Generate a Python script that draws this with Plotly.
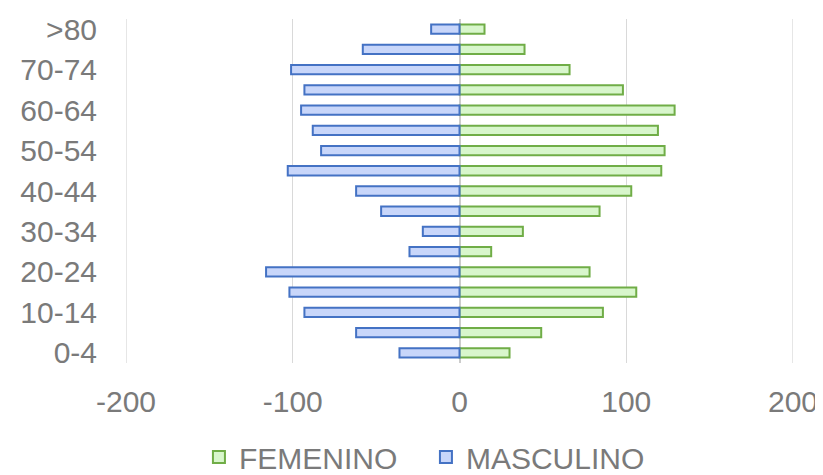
import plotly.graph_objects as go

# Grupos de edad (de abajo hacia arriba)
grupos = ['0-4', '5-9', '10-14', '15-19', '20-24', '25-29', '30-34', '35-39',
          '40-44', '45-49', '50-54', '55-59', '60-64', '65-69', '70-74', '75-79', '>80']

femenino = [30, 49, 86, 106, 78, 19, 38, 84, 103, 121, 123, 119, 129, 98, 66, 39, 15]
masculino = [-36, -62, -93, -102, -116, -30, -22, -47, -62, -103, -83, -88, -95, -93, -101, -58, -17]

# Solo se muestra una etiqueta de cada dos
etiquetas_y = grupos[::2]
ticks_x = [-200, -100, 0, 100, 200]

gris = '#7a7a7a'
gris_rejilla = '#d9d9d9'
fuente = 'Liberation Sans, Arial, sans-serif'

fig = go.Figure()

fig.add_trace(go.Bar(
    y=grupos, x=femenino, orientation='h', name='FEMENINO',
    width=0.46,
    marker=dict(color='#d8f6cc', line=dict(color='#70ad47', width=2)),
))
fig.add_trace(go.Bar(
    y=grupos, x=masculino, orientation='h', name='MASCULINO',
    width=0.46,
    marker=dict(color='#c8d6fa', line=dict(color='#4472c4', width=2)),
))

# plotly no dibuja la rejilla en los bordes del rango: se añaden a mano
for v in (ticks_x[0], ticks_x[-1]):
    fig.add_shape(type='line', xref='x', yref='paper', x0=v, x1=v, y0=0, y1=1,
                  line=dict(color=gris_rejilla, width=1.3), layer='below')

# la página deja 8 px de margen en el body, se compensa en los márgenes
fig.update_layout(
    width=823, height=475,
    barmode='overlay',
    paper_bgcolor='white', plot_bgcolor='white',
    font=dict(family=fuente, size=30, color=gris),
    margin=dict(l=118, r=38, t=5, b=120),
    showlegend=True,
    legend=dict(
        orientation='h', xref='container', x=0.232, xanchor='left',
        yref='container', y=0.055, yanchor='middle',
        font=dict(size=30, color=gris), traceorder='normal',
        entrywidth=182, entrywidthmode='pixels',
    ),
    xaxis=dict(
        range=[-200, 200], tickvals=ticks_x, ticktext=[str(v) for v in ticks_x],
        showgrid=True, gridcolor=gris_rejilla, gridwidth=1.3,
        zeroline=True, zerolinecolor='#cccccc', zerolinewidth=1.5,
        showline=False, ticks='outside', ticklen=12, tickcolor='rgba(0,0,0,0)',
    ),
    yaxis=dict(
        categoryorder='array', categoryarray=grupos,
        range=[-0.5, 16.5],
        tickvals=etiquetas_y, ticktext=etiquetas_y,
        showgrid=False, showline=False,
        ticks='outside', ticklen=22, tickcolor='rgba(0,0,0,0)',
    ),
)

fig.write_html("out.html")
